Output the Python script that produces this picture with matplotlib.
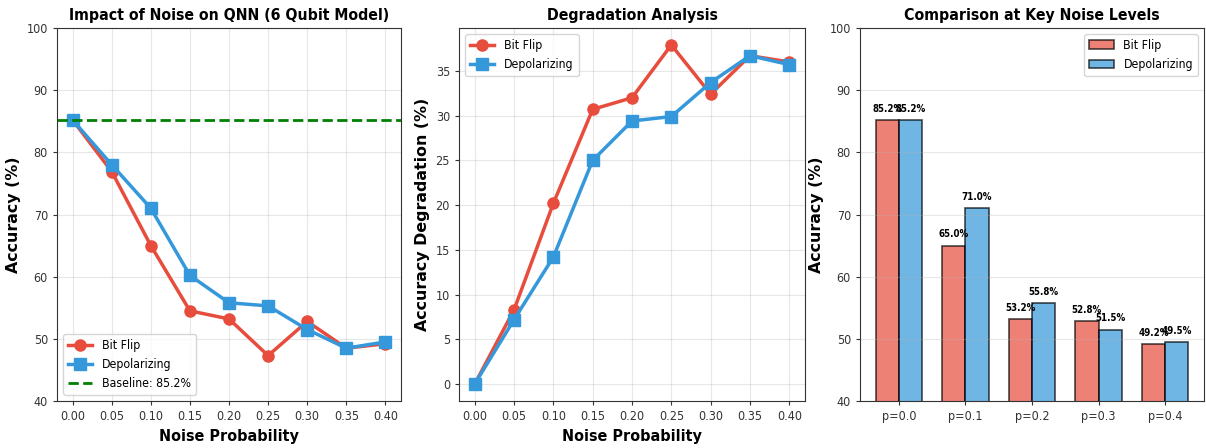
import matplotlib
matplotlib.use("Agg")
import matplotlib.pyplot as plt
import numpy as np

plt.rcParams["font.family"] = ["DejaVu Sans"]
plt.rcParams["font.stretch"] = "condensed"

noise = [0.00, 0.05, 0.10, 0.15, 0.20, 0.25, 0.30, 0.35, 0.40]
bit_flip_acc = [85.2, 76.9, 65.0, 54.5, 53.2, 47.3, 52.8, 48.5, 49.2]
depol_acc = [85.2, 78.0, 71.0, 60.2, 55.8, 55.3, 51.5, 48.5, 49.5]
baseline = 85.2
bit_flip_deg = [0.0, 8.3, 20.2, 30.7, 32.0, 37.9, 32.4, 36.7, 36.0]
depol_deg = [0.0, 7.2, 14.2, 25.0, 29.4, 29.9, 33.7, 36.7, 35.7]
key_labels = ["p=0.0", "p=0.1", "p=0.2", "p=0.3", "p=0.4"]
key_bit = [85.2, 65.0, 53.2, 52.8, 49.2]
key_depol = [85.2, 71.0, 55.8, 51.5, 49.5]

RED = "#e74c3c"
BLUE = "#3498db"

fig = plt.figure(figsize=(12.06, 4.48), dpi=100)
ax1 = fig.add_axes([57/1206, 47/448, 344/1206, 373/448])
ax2 = fig.add_axes([459/1206, 47/448, 346/1206, 373/448])
ax3 = fig.add_axes([860/1206, 47/448, 344/1206, 373/448])

for ax in (ax1, ax2, ax3):
    ax.tick_params(labelsize=9, colors="#333333", length=3)
    for s in ax.spines.values():
        s.set_color("#333333")

XLBL = dict(fontsize=11.5, fontweight="bold")
YLBL = dict(fontsize=11.4, fontweight="bold", fontstretch="normal")
TTL = dict(fontsize=11.3, fontweight="bold")

# Panel 1
ax1.plot(noise, bit_flip_acc, "-o", color=RED, lw=2.5, ms=8, label="Bit Flip")
ax1.plot(noise, depol_acc, "-s", color=BLUE, lw=2.5, ms=8, label="Depolarizing")
ax1.axhline(baseline, color="green", ls="--", lw=2, label=f"Baseline: {baseline}%")
ax1.set_ylim(40, 100)
ax1.set_xticks(noise)
ax1.set_xticklabels([f"{v:.2f}" for v in noise])
ax1.set_xlabel("Noise Probability", **XLBL)
ax1.set_ylabel("Accuracy (%)", **YLBL)
ax1.set_title("Impact of Noise on QNN (6 Qubit Model)", **TTL)
ax1.grid(True, alpha=0.3)
ax1.legend(loc="lower left", fontsize=8.8)

# Panel 2
ax2.plot(noise, bit_flip_deg, "-o", color=RED, lw=2.5, ms=8, label="Bit Flip")
ax2.plot(noise, depol_deg, "-s", color=BLUE, lw=2.5, ms=8, label="Depolarizing")
ax2.set_xticks(noise)
ax2.set_xticklabels([f"{v:.2f}" for v in noise])
ax2.set_xlabel("Noise Probability", **XLBL)
ax2.set_ylabel("Accuracy Degradation (%)", **YLBL)
ax2.set_title("Degradation Analysis", **TTL)
ax2.grid(True, alpha=0.3)
ax2.legend(loc="upper left", fontsize=8.8)

# Panel 3
x = np.arange(len(key_labels))
w = 0.35
b1 = ax3.bar(x - w/2, key_bit, w, color=RED, alpha=0.7, edgecolor="black", lw=1.2, label="Bit Flip")
b2 = ax3.bar(x + w/2, key_depol, w, color=BLUE, alpha=0.7, edgecolor="black", lw=1.2, label="Depolarizing")
for bars in (b1, b2):
    for b in bars:
        h = b.get_height()
        ax3.text(b.get_x() + b.get_width()/2, h + 1, f"{h:.1f}%", ha="center", va="bottom",
                 fontsize=7, fontweight="bold")
ax3.set_ylim(40, 100)
ax3.set_xticks(x)
ax3.set_xticklabels(key_labels)
ax3.set_ylabel("Accuracy (%)", **YLBL)
ax3.set_title("Comparison at Key Noise Levels", **TTL)
ax3.grid(True, alpha=0.3, axis="y")
ax3.legend(loc="upper right", fontsize=8.8)

fig.savefig("out.png", dpi=100)
